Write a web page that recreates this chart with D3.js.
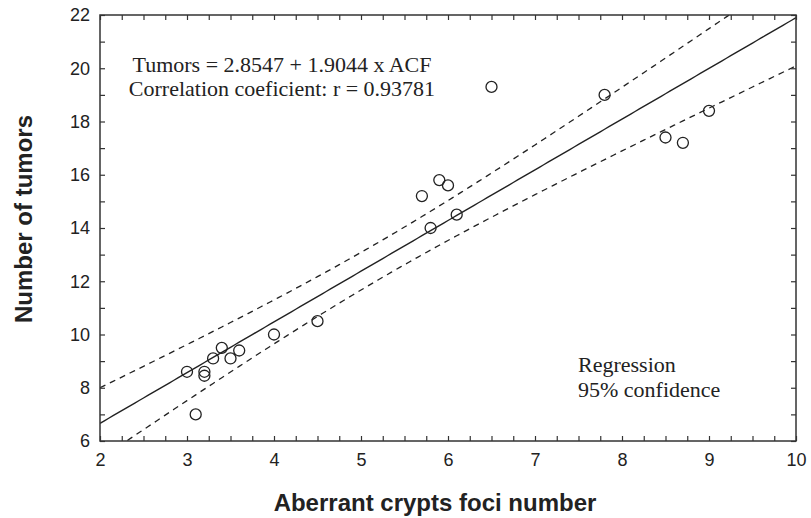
<!DOCTYPE html>
<html>
<head>
<meta charset="utf-8">
<script src="https://cdn.jsdelivr.net/npm/d3@7"></script>
<style>
  body { margin: 0; background: #fff; }
  svg { display: block; }
</style>
</head>
<body>
<div id="chart"></div>
<script>
// Data
const acf = [3.0, 3.1, 3.2, 3.2, 3.3, 3.4, 3.5, 3.6, 4.0, 4.5, 5.7, 5.8, 5.9, 6.0, 6.1, 6.5, 7.8, 8.5, 8.7, 9.0];
const tumors = [8.6, 7.0, 8.6, 8.45, 9.1, 9.5, 9.1, 9.4, 10.0, 10.5, 15.2, 14.0, 15.8, 15.6, 14.5, 19.3, 19.0, 17.4, 17.2, 18.4];

// Regression reported on the chart
const intercept = 2.8547;
const slope = 1.9044;
const tCrit = 2.101; // t(0.975, 18)

const xTicks = [2, 3, 4, 5, 6, 7, 8, 9, 10];
const yTicks = [6, 8, 10, 12, 14, 16, 18, 20, 22];
const equationLines = ['Tumors = 2.8547 + 1.9044 x ACF', 'Correlation coeficient: r = 0.93781'];
const legendLines = ['Regression', '95% confidence'];

const W = 811, H = 518;
const margin = {top: 15, right: 15, bottom: 77, left: 100};
const width = W - margin.left - margin.right,
  height = H - margin.top - margin.bottom;

const svg = d3.select('#chart')
  .append('svg')
  .attr('width', W)
  .attr('height', H);

const g = svg.append('g')
  .attr('transform', `translate(${margin.left},${margin.top})`);

const x = d3.scaleLinear().domain([2, 10]).range([0, width]);
const y = d3.scaleLinear().domain([6, 22]).range([height, 0]);

g.append('defs').append('clipPath')
  .attr('id', 'clip')
  .append('rect')
  .attr('width', width)
  .attr('height', height);

// Confidence band for the mean response
const n = acf.length;
const meanX = d3.mean(acf);
const sxx = d3.sum(acf, v => (v - meanX) ** 2);
const sse = d3.sum(acf, (v, i) => (tumors[i] - (intercept + slope * v)) ** 2);
const s = Math.sqrt(sse / (n - 2));
const fit = v => intercept + slope * v;
const halfWidth = v => tCrit * s * Math.sqrt(1 / n + (v - meanX) ** 2 / sxx);

const xs = d3.range(0, 161).map(i => 2 + i * 0.05);

const line = d3.line()
  .x(d => x(d[0]))
  .y(d => y(d[1]));

const plot = g.append('g').attr('clip-path', 'url(#clip)');

plot.append('path')
  .attr('d', line(xs.map(v => [v, fit(v)])))
  .attr('fill', 'none')
  .attr('stroke', '#222')
  .attr('stroke-width', 1.4);

[1, -1].forEach(sign => {
  plot.append('path')
    .attr('d', line(xs.map(v => [v, fit(v) + sign * halfWidth(v)])))
    .attr('fill', 'none')
    .attr('stroke', '#222')
    .attr('stroke-width', 1.3)
    .attr('stroke-dasharray', '6,5');
});

// Points
g.selectAll('.pt')
  .data(acf)
  .enter()
  .append('circle')
  .attr('cx', d => x(d))
  .attr('cy', (d, i) => y(tumors[i]))
  .attr('r', 5.5)
  .attr('fill', 'none')
  .attr('stroke', '#222')
  .attr('stroke-width', 1.3);

// Axes with inward ticks on all four sides
const xMinor = d3.range(2, 10.001, 0.25);
const yMinor = d3.range(6, 22.001, 1);

const styleAxis = sel => {
  sel.select('.domain').remove();
  sel.selectAll('line').attr('stroke', '#333').attr('stroke-width', 1.2);
};

g.append('g')
  .attr('transform', `translate(0,${height})`)
  .call(d3.axisBottom(x).tickValues(xMinor).tickSizeInner(-5).tickSizeOuter(0).tickFormat(''))
  .call(styleAxis);
g.append('g')
  .call(d3.axisTop(x).tickValues(xMinor).tickSizeInner(-5).tickSizeOuter(0).tickFormat(''))
  .call(styleAxis);
g.append('g')
  .call(d3.axisLeft(y).tickValues(yMinor).tickSizeInner(-5).tickSizeOuter(0).tickFormat(''))
  .call(styleAxis);
g.append('g')
  .attr('transform', `translate(${width},0)`)
  .call(d3.axisRight(y).tickValues(yMinor).tickSizeInner(-5).tickSizeOuter(0).tickFormat(''))
  .call(styleAxis);

// Tick labels
g.append('g')
  .attr('transform', `translate(0,${height})`)
  .call(d3.axisBottom(x).tickValues(xTicks).tickSize(0).tickPadding(12).tickFormat(d3.format('d')))
  .call(sel => sel.select('.domain').remove())
  .selectAll('text')
  .attr('font-family', 'Liberation Sans, Arial, sans-serif')
  .attr('font-size', 18)
  .attr('fill', '#222');

g.append('g')
  .call(d3.axisLeft(y).tickValues(yTicks).tickSize(0).tickPadding(10).tickFormat(d3.format('d')))
  .call(sel => sel.select('.domain').remove())
  .selectAll('text')
  .attr('font-family', 'Liberation Sans, Arial, sans-serif')
  .attr('font-size', 18)
  .attr('fill', '#222');

// Frame
g.append('rect')
  .attr('width', width)
  .attr('height', height)
  .attr('fill', 'none')
  .attr('stroke', '#333')
  .attr('stroke-width', 1.5);

// Equation text
const eq = svg.append('text')
  .attr('font-family', 'Liberation Serif, Times New Roman, serif')
  .attr('font-size', 22)
  .attr('fill', '#222')
  .attr('text-anchor', 'middle');
equationLines.forEach((t, i) => {
  eq.append('tspan')
    .attr('x', 282)
    .attr('y', 72 + i * 24)
    .text(t);
});

// Legend text
const lg = svg.append('text')
  .attr('font-family', 'Liberation Serif, Times New Roman, serif')
  .attr('font-size', 22)
  .attr('fill', '#222');
legendLines.forEach((t, i) => {
  lg.append('tspan')
    .attr('x', 578)
    .attr('y', 372 + i * 25)
    .text(t);
});

// Axis titles
svg.append('text')
  .attr('x', 435)
  .attr('y', 511)
  .attr('text-anchor', 'middle')
  .attr('font-family', 'Liberation Sans, Arial, sans-serif')
  .attr('font-weight', 'bold')
  .attr('font-size', 24)
  .attr('fill', '#222')
  .text('Aberrant crypts foci number');

svg.append('text')
  .attr('transform', 'translate(32,219) rotate(-90)')
  .attr('text-anchor', 'middle')
  .attr('font-family', 'Liberation Sans, Arial, sans-serif')
  .attr('font-weight', 'bold')
  .attr('font-size', 24)
  .attr('fill', '#222')
  .text('Number of tumors');
</script>
</body>
</html>
